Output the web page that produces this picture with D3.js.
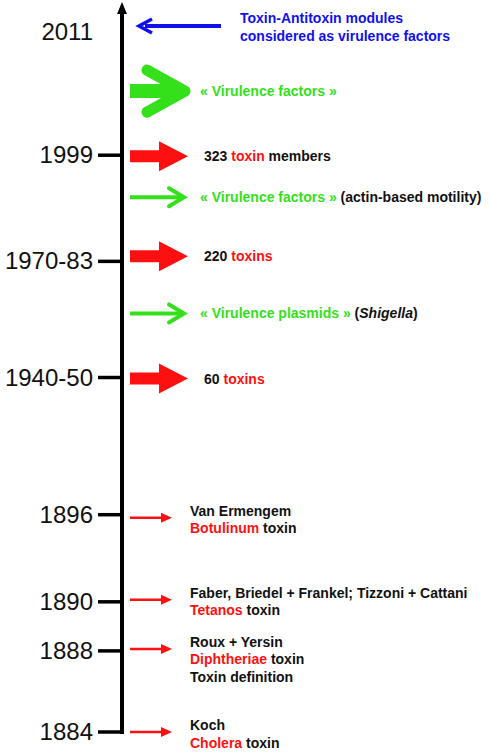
<!DOCTYPE html>
<html><head><meta charset="utf-8">
<script src="https://cdn.jsdelivr.net/npm/d3@7"></script>
<style>body{margin:0;background:#fff}text{font-family:"Liberation Sans",Arial,sans-serif}</style>
</head><body>
<script>
// timeline slots (diagram units, top = 0)
var yearLabels = ["2011","1999","1970-83","1940-50","1896","1890","1888","1884"]
var yearSlots  = [3.2, 15.5, 26.1, 37.7, 51.4, 60.1, 65.0, 73.1]
var yearTicks  = [false, true, true, true, true, true, true, true]

var eventSlots = [2.6, 9.1, 15.6, 19.7, 25.6, 31.3, 37.8, 51.7, 59.9, 64.8, 73.1]
var eventKinds = ["blue","greenBig","red","green","red","green","red","thin","thin","thin","thin"]
// each event: list of lines, each line list of [text, colour]
var eventTexts = [
  [[["Toxin-Antitoxin modules","b"]],[["considered as virulence factors","b"]]],
  [[["« Virulence factors »","g"]]],
  [[["323 ","k"],["toxin","r"],[" members","k"]]],
  [[["« Virulence factors »","g"],[" (actin-based motility)","k"]]],
  [[["220 ","k"],["toxins","r"]]],
  [[["« Virulence plasmids »","g"],[" (","k"],["Shigella","ki"],[")","k"]]],
  [[["60 ","k"],["toxins","r"]]],
  [[["Van Ermengem","k"]],[["Botulinum","r"],[" toxin","k"]]],
  [[["Faber, Briedel + Frankel; Tizzoni + Cattani","k"]],[["Tetanos","r"],[" toxin","k"]]],
  [[["Roux + Yersin","k"]],[["Diphtheriae","r"],[" toxin","k"]],[["Toxin definition","k"]]],
  [[["Koch","k"]],[["Cholera","r"],[" toxin","k"]]]
]

var W = 490, H = 752
var colors = {b:"#1010ee", g:"#33e01a", r:"#ff1010", k:"#111", ki:"#111"}
var y = d3.scaleLinear().domain([0, 73.1]).range([0, 732])
var axisX = 122

var svg = d3.select("body").append("svg").attr("width", W).attr("height", H)

// main axis with arrow tip
svg.append("line").attr("x1", axisX).attr("x2", axisX).attr("y1", 10).attr("y2", y(73.1) + 2)
  .attr("stroke", "#000").attr("stroke-width", 4)
svg.append("path").attr("d", "M" + (axisX - 5) + ",14 L" + axisX + ",2 L" + (axisX + 5) + ",14 Z").attr("fill", "#000")

// year ticks and labels
yearLabels.forEach(function(lab, i) {
  if (yearTicks[i]) {
    svg.append("line").attr("x1", 98).attr("x2", axisX).attr("y1", y(yearSlots[i])).attr("y2", y(yearSlots[i]))
      .attr("stroke", "#000").attr("stroke-width", 3.5)
  }
  svg.append("text").attr("x", 93).attr("y", y(yearSlots[i]) + 8).attr("text-anchor", "end")
    .attr("font-size", 24).attr("fill", "#111").text(lab)
})

// arrows
eventKinds.forEach(function(k, i) {
  var cy = y(eventSlots[i])
  var g = svg.append("g").attr("transform", "translate(0," + cy + ")")
  if (k == "blue") {
    g.append("line").attr("x1", 145).attr("x2", 221).attr("y1", 0).attr("y2", 0).attr("stroke", colors.b).attr("stroke-width", 4)
    g.append("path").attr("d", "M152,-7 L139,0 L152,7").attr("fill", "none").attr("stroke", colors.b).attr("stroke-width", 3.5)
  } else if (k == "greenBig") {
    g.append("line").attr("x1", 130).attr("x2", 180).attr("y1", 0).attr("y2", 0).attr("stroke", colors.g).attr("stroke-width", 14)
    g.append("path").attr("d", "M147,-21 L185,0 L147,21").attr("fill", "none").attr("stroke", colors.g)
      .attr("stroke-width", 11).attr("stroke-linecap", "round").attr("stroke-linejoin", "round")
  } else if (k == "red") {
    g.append("path").attr("d", "M130,-6 L159,-6 L159,-15 L188,0 L159,15 L159,6 L130,6 Z").attr("fill", colors.r)
  } else if (k == "green") {
    g.append("line").attr("x1", 130).attr("x2", 182).attr("y1", 0).attr("y2", 0).attr("stroke", colors.g).attr("stroke-width", 4)
    g.append("path").attr("d", "M169,-9 L184,0 L169,9").attr("fill", "none").attr("stroke", colors.g)
      .attr("stroke-width", 4).attr("stroke-linecap", "round")
  } else {
    g.append("line").attr("x1", 130).attr("x2", 164).attr("y1", 0).attr("y2", 0).attr("stroke", colors.r).attr("stroke-width", 2.5)
    g.append("path").attr("d", "M161,-5 L172,0 L161,5 Z").attr("fill", colors.r)
  }
})

// texts
var textX = [240, 200, 204, 200, 204, 200, 204, 190, 190, 190, 190]
eventTexts.forEach(function(lines, i) {
  var cy = y(eventSlots[i])
  var firstDy = eventKinds[i] == "thin" ? -2 : (lines.length > 1 ? -3 : 5)
  lines.forEach(function(parts, j) {
    var t = svg.append("text").attr("x", textX[i]).attr("y", cy + firstDy + j * 17.5)
      .attr("font-size", 14).attr("font-weight", "bold")
    parts.forEach(function(p) {
      t.append("tspan").attr("fill", colors[p[1]]).attr("font-style", p[1] == "ki" ? "italic" : "normal").text(p[0])
    })
  })
})
</script>
</body></html>
